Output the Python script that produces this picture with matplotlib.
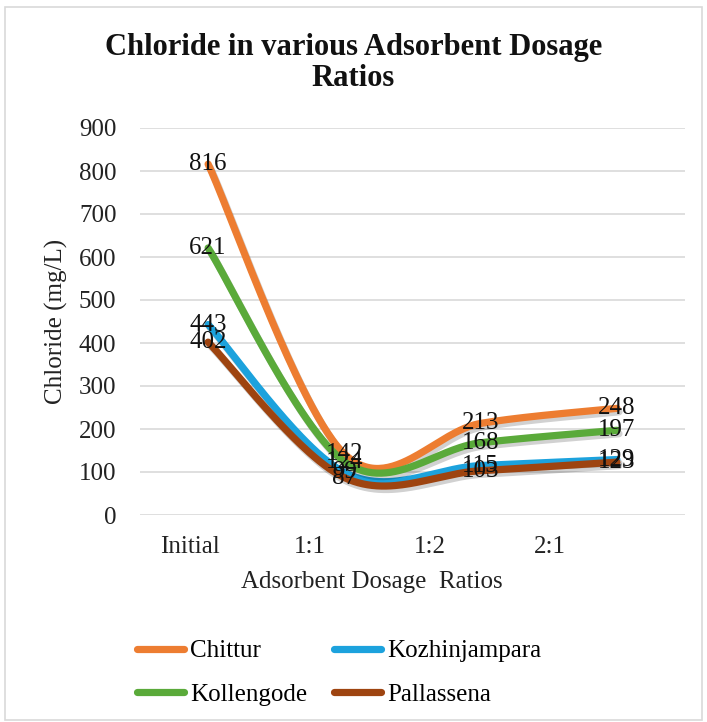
import numpy as np
import matplotlib
matplotlib.use("Agg")
import matplotlib.pyplot as plt
import matplotlib.patheffects as pe
from matplotlib.patches import Rectangle
from matplotlib.lines import Line2D

categories = ["Initial", "1:1", "1:2", "2:1"]
series_names = ["Chittur", "Kozhinjampara", "Kollengode", "Pallassena"]
chittur = [816, 142, 213, 248]
kozhinjampara = [443, 99, 115, 129]
kollengode = [621, 124, 168, 197]
pallassena = [402, 87, 103, 123]
series_values = [chittur, kozhinjampara, kollengode, pallassena]
colors = ["#ED7D31", "#1CA2DD", "#5AAA3A", "#9E4410"]
yticks = [0, 100, 200, 300, 400, 500, 600, 700, 800, 900]

FONT = "Liberation Serif"
plt.rcParams["font.family"] = [FONT, "DejaVu Serif"]
FS = 18

fig = plt.figure(figsize=(7.07, 7.22), dpi=100)
W, H = 707, 722
ax = fig.add_axes([140 / W, 1 - 515 / H, 545 / W, 387 / H])

fig.patches.append(Rectangle((5 / W, 2 / H), 697 / W, 713 / H, transform=fig.transFigure,
                             fill=False, edgecolor="#D9D9D9", linewidth=1.2))


def smooth(xs, ys, n=60):
    P = np.column_stack([xs, ys]).astype(float)
    m = len(P)
    ext = np.vstack([P[0], P, P[-1]])
    out = []
    t = np.linspace(0, 1, n)[:, None]
    for i in range(m - 1):
        p0, p1, p2, p3 = ext[i], ext[i + 1], ext[i + 2], ext[i + 3]
        b0 = p1
        b1 = p1 + (p2 - p0) / 6.0
        b2 = p2 - (p3 - p1) / 6.0
        b3 = p2
        seg = ((1 - t) ** 3) * b0 + 3 * ((1 - t) ** 2) * t * b1 + 3 * (1 - t) * t ** 2 * b2 + t ** 3 * b3
        out.append(seg if i == 0 else seg[1:])
    c = np.vstack(out)
    return c[:, 0], c[:, 1]


x = np.arange(len(categories))
shadow = [pe.SimpleLineShadow(offset=(1.5, -2.5), shadow_color="#000000", alpha=0.18), pe.Normal()]
for vals, col in zip(series_values, colors):
    sx, sy = smooth(x, vals)
    ax.plot(sx, sy, color=col, linewidth=5.2, solid_capstyle="round", path_effects=shadow, zorder=3)
for vals in series_values:
    for xi, v in zip(x, vals):
        ax.text(xi, v, str(v), ha="center", va="center", fontsize=FS, color="#111111", zorder=5)

ax.set_xlim(-0.5, 3.5)
ax.set_ylim(0, 900)
ax.set_yticks(yticks)
ax.set_yticklabels([str(t) for t in yticks], fontsize=FS)
ax.set_xticks(x * 0.88 - 0.13)
ax.set_xticklabels(categories, fontsize=FS)
ax.tick_params(axis="both", length=0, colors="#222222")
ax.tick_params(axis="y", pad=17)
ax.tick_params(axis="x", pad=15)
ax.grid(axis="y", color="#D9D9D9", linewidth=1.2)
ax.set_axisbelow(True)
for s in ax.spines.values():
    s.set_visible(False)

ax.set_ylabel("Chloride (mg/L)", fontsize=FS, color="#222222")
ax.yaxis.set_label_coords(-(140 - 56) / 545, 0.5)
ax.set_xlabel("Adsorbent Dosage  Ratios", fontsize=FS, color="#222222")
ax.xaxis.set_label_coords((372 - 140) / 545, -(582 - 515) / 387)
ax.xaxis.label.set_va("center")
ax.yaxis.label.set_va("center")

fig.text(0.5, 1 - 63 / H, "Chloride in various Adsorbent Dosage\nRatios", ha="center", va="center",
         fontsize=22, fontweight="bold", linespacing=1.12, color="#111111")

order = [0, 2, 1, 3]
handles = [Line2D([0], [0], color=colors[i], linewidth=5.2, solid_capstyle="round") for i in order]
labels = [series_names[i] for i in order]
leg = fig.legend(handles, labels, ncol=2, loc="center", bbox_to_anchor=(339 / W, 1 - 673 / H),
                 frameon=False, fontsize=FS, handlelength=1.9, handletextpad=0.25, columnspacing=1.05,
                 labelspacing=0.85)

fig.savefig("out.png", dpi=100)
